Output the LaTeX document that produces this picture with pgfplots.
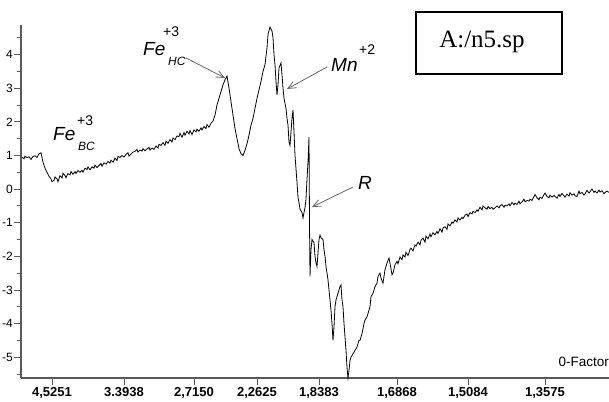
\documentclass[border=0pt]{standalone}
\usepackage{fontspec}
\setmainfont{Liberation Sans}
\newfontfamily\tnr{Liberation Serif}
\usepackage{pgfplots}
\pgfplotsset{compat=1.18}
\usetikzlibrary{arrows.meta}

\begin{document}
\begin{tikzpicture}
\useasboundingbox (-21pt,-23pt) rectangle (588pt,378pt);
\begin{axis}[
    at={(0pt,0pt)}, anchor=south west,
    scale only axis,
    width=588pt, height=353pt,
    xmin=21, xmax=609, ymin=-5.62, ymax=4.88,
    axis x line=bottom, axis y line=left,
    axis line style={-, draw=black!65, line width=1.2pt},
    tick style={draw=black!65, line width=0.8pt},
    tick align=outside,
    major tick length=7pt, minor tick length=4pt,
    xtick={52,124,194,257,319,397,468,545},
    xticklabels={{4,5251},{3.3938},{2,7150},{2,2625},{1,8383},{1,6868},{1,5084},{1,3575}},
    ytick={-5,-4,-3,-2,-1,0,1,2,3,4},
    minor ytick={-5.5,-4.5,-3.5,-2.5,-1.5,-0.5,0.5,1.5,2.5,3.5,4.5},
    /pgf/number format/assume math mode=true,
    xticklabel style={font=\fontsize{13}{15}\selectfont\bfseries, inner sep=1pt, yshift=-1pt},
    yticklabel style={font=\fontsize{12}{14}\selectfont, inner sep=1pt},
    clip=false,
]
\addplot[black, line width=0.8pt] coordinates {
(22,0.95) (24,0.90) (25,0.98) (27,0.93) (29,0.96) (31,0.88) (33,0.97) (35,0.99)
(37,0.94) (39,1.05) (41,1.08) (43,0.80) (45,0.62) (47,0.50) (49,0.38) (51,0.30)
(52,0.22) (54,0.26) (55,0.36) (57,0.30) (58,0.22) (60,0.40) (62,0.33) (63,0.47)
(65,0.40) (66,0.34) (68,0.46) (70,0.42) (71,0.52) (73,0.44) (75,0.52) (76,0.46)
(78,0.55) (80,0.50) (82,0.56) (83,0.50) (85,0.62) (87,0.58) (88,0.66) (90,0.57)
(92,0.66) (94,0.62) (95,0.71) (97,0.64) (99,0.70) (101,0.76) (102,0.68) (104,0.78)
(106,0.74) (108,0.82) (110,0.77) (111,0.86) (113,0.80) (115,0.92) (117,0.85) (118,0.97)
(120,0.94) (122,1.00) (124,0.95) (126,1.03) (128,1.08) (129,0.98) (131,1.04) (133,1.10)
(135,1.12) (137,1.18) (138,1.10) (140,1.16) (142,1.13) (143,1.20) (145,1.14) (147,1.19)
(149,1.24) (150,1.16) (152,1.22) (154,1.18) (156,1.28) (158,1.22) (159,1.33) (161,1.30)
(163,1.38) (165,1.30) (166,1.42) (168,1.36) (170,1.47) (172,1.40) (173,1.52) (175,1.47)
(177,1.58) (179,1.56) (180,1.66) (182,1.54) (184,1.68) (185,1.60) (187,1.72) (189,1.64)
(190,1.74) (192,1.62) (194,1.76) (196,1.70) (197,1.78) (199,1.72) (201,1.82) (202,1.76)
(204,1.86) (206,1.80) (207,1.92) (209,1.84) (211,1.96) (213,2.02)
(215,2.20) (217,2.50) (219,2.70) (221,2.90) (223,3.10) (225,3.25) (227,3.36) (229,3.00)
(231,2.60) (233,2.20) (235,1.80) (237,1.50) (239,1.20) (241,1.05) (243,1.00) (245,1.15)
(247,1.35) (249,1.60) (251,1.90) (253,2.10) (255,2.40) (257,2.70) (259,2.95) (261,3.20)
(263,3.50) (265,3.70) (267,4.20) (268,4.60) (270,4.82) (272,4.70) (273,4.50) (274,4.00)
(275,3.70) (276,3.20) (277,2.80) (278,3.10) (279,3.60) (281,3.75) (282,3.40) (283,3.00)
(284,2.70) (286,2.40) (287,2.10) (288,1.90) (289,1.40) (290,1.30) (291,1.70) (292,2.10)
(293,2.35) (294,1.70) (295,1.00) (296,0.60) (297,0.20) (298,-0.25) (299,-0.40) (300,-0.60)
(302,-0.70) (303,-0.86) (304,-0.70) (305,-0.55) (306,-0.30) (307,0.30) (308,0.80) (309,1.55)
(309.5,-1.00) (310,-2.60) (311,-1.80) (312,-1.50) (313,-1.55) (314,-1.60) (315,-2.00) (316,-2.20)
(317,-2.30) (318,-1.90) (319,-1.50) (320,-1.37) (321,-1.45) (323,-1.50) (324,-1.80) (325,-2.00)
(326,-2.30) (328,-2.70) (330,-3.30) (331,-3.60) (332,-4.00) (333,-4.50) (334,-4.10) (335,-3.50)
(336,-3.30) (338,-3.10) (340,-2.90) (341,-2.85) (342,-3.30) (343,-3.50) (344,-4.00) (345,-4.40)
(346,-4.80) (347,-5.30) (348,-5.62) (349,-5.40) (350,-5.10) (351,-5.00) (352,-4.95) (354,-4.85)
(355,-4.80) (357,-4.70) (359,-4.50) (360,-4.50) (362,-4.30) (364,-4.00) (365,-3.90) (367,-3.80)
(369,-3.60) (370,-3.50) (371,-3.20) (373,-3.10) (375,-2.90) (377,-2.80) (378,-2.60) (380,-2.50)
(381,-2.65) (383,-2.80) (385,-2.40) (387,-2.20) (389,-2.05) (390,-2.20) (392,-2.55) (393,-2.50)
(395,-2.25) (397,-2.15) (398,-2.22) (400,-2.02) (402,-2.10) (403,-1.96) (405,-2.02) (406,-1.88)
(408,-1.98) (410,-1.80) (411,-1.76) (413,-1.84) (415,-1.66) (416,-1.70) (418,-1.58) (420,-1.66)
(421,-1.52) (423,-1.46) (425,-1.58) (426,-1.40) (428,-1.48) (430,-1.34) (431,-1.42) (433,-1.30)
(435,-1.36) (437,-1.26) (438,-1.32) (440,-1.18) (442,-1.28) (443,-1.16) (445,-1.12) (447,-1.20)
(448,-1.04) (450,-1.10) (452,-0.98) (453,-1.02) (455,-0.92) (457,-0.98) (458,-0.86) (460,-0.92)
(462,-0.84) (463,-0.88) (465,-0.78) (467,-0.74) (468,-0.82) (470,-0.70) (472,-0.74) (473,-0.66)
(475,-0.70) (477,-0.62) (478,-0.66) (480,-0.54) (482,-0.62) (483,-0.50) (485,-0.56) (487,-0.60)
(488,-0.52) (490,-0.58) (492,-0.54) (493,-0.60) (495,-0.56) (497,-0.50) (499,-0.56) (500,-0.50)
(502,-0.46) (504,-0.54) (505,-0.48) (507,-0.50) (509,-0.44) (510,-0.50) (512,-0.40) (514,-0.47)
(515,-0.42) (517,-0.46) (519,-0.36) (520,-0.44) (522,-0.38) (524,-0.30) (525,-0.38) (527,-0.34)
(529,-0.36) (530,-0.30) (532,-0.34) (534,-0.22) (535,-0.16) (537,-0.26) (539,-0.32) (540,-0.24)
(542,-0.28) (544,-0.16) (545,-0.12) (547,-0.22) (549,-0.26) (550,-0.18) (552,-0.24) (554,-0.19)
(555,-0.22) (557,-0.27) (559,-0.16) (560,-0.22) (562,-0.13) (564,-0.20) (565,-0.24) (567,-0.15)
(569,-0.21) (570,-0.11) (572,-0.18) (574,-0.14) (575,-0.20) (577,-0.22) (579,-0.06) (580,-0.14)
(582,-0.10) (584,-0.18) (585,-0.14) (587,-0.04) (589,-0.12) (590,-0.08) (592,0.00) (594,-0.10)
(595,-0.06) (597,-0.12) (599,-0.03) (600,-0.09) (602,-0.05) (604,-0.14) (605,-0.10) (607,-0.06)
(609,-0.10)
};
\end{axis}

% label box
\draw[line width=2pt] (395pt,304pt) rectangle (541pt,366pt);
\node[font=\tnr\fontsize{25}{28}\selectfont] at (461pt,336pt) {A:/n5.sp};
\node[anchor=base east, font=\fontsize{13.5}{15}\selectfont, inner sep=0pt] at (588pt,12pt) {0-Factor};

% Fe BC
\node[anchor=base west, inner sep=0pt, font=\fontsize{19}{21}\selectfont\itshape] at (32pt,237pt) {Fe};
\node[anchor=base west, inner sep=0pt, font=\fontsize{12}{14}\selectfont\itshape] at (57pt,227pt) {BC};
\node[anchor=base west, inner sep=0pt, font=\fontsize{14}{16}\selectfont] at (56pt,252pt) {+3};

% Fe HC
\node[anchor=base west, inner sep=0pt, font=\fontsize{19}{21}\selectfont\itshape] at (122pt,322pt) {Fe};
\node[anchor=base west, inner sep=0pt, font=\fontsize{12}{14}\selectfont\itshape] at (147pt,312pt) {HC};
\node[anchor=base west, inner sep=0pt, font=\fontsize{14}{16}\selectfont] at (142pt,341pt) {+3};
\draw[black!60, line width=0.8pt, -{Straight Barb[length=8pt,width=7pt]}] (165pt,320pt) -- (204pt,300pt);

% Mn
\node[anchor=base west, inner sep=0pt, font=\fontsize{19}{21}\selectfont\itshape] at (310pt,306pt) {Mn};
\node[anchor=base west, inner sep=0pt, font=\fontsize{14}{16}\selectfont] at (338pt,323pt) {+2};
\draw[black!60, line width=0.8pt, -{Straight Barb[length=8pt,width=7pt]}] (306pt,311pt) -- (266pt,289pt);

% R
\node[anchor=base west, inner sep=0pt, font=\fontsize{19}{21}\selectfont\itshape] at (337pt,188pt) {R};
\draw[black!60, line width=0.8pt, -{Straight Barb[length=8pt,width=7pt]}] (332pt,191pt) -- (291pt,171pt);
\end{tikzpicture}
\end{document}
